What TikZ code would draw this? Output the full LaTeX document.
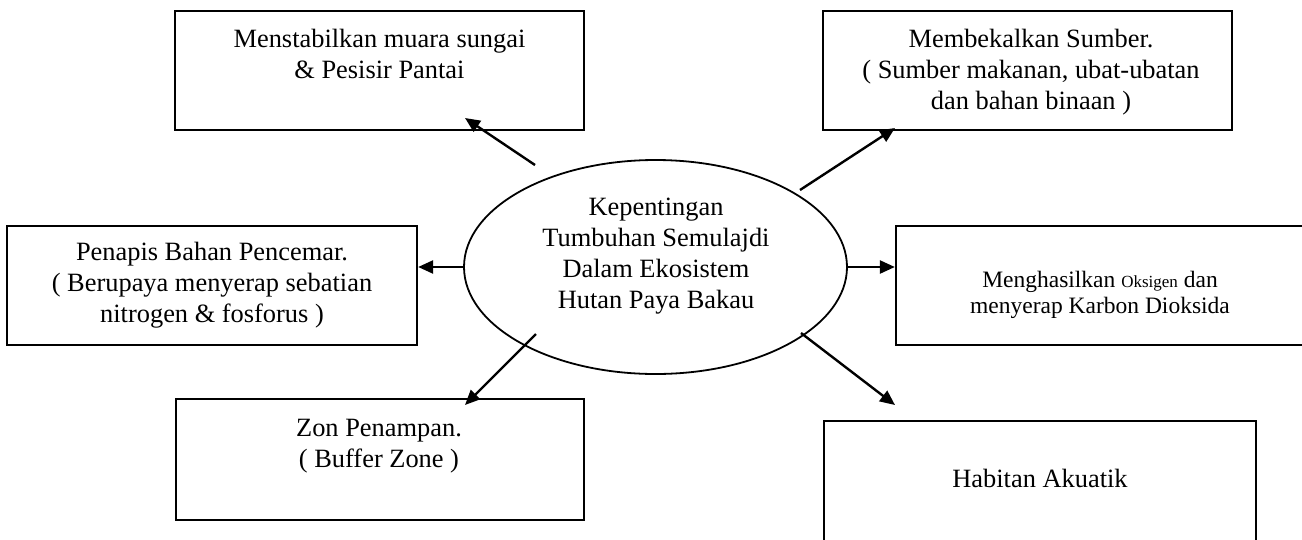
\documentclass[tikz,border=0pt]{standalone}
\usepackage{fontspec}
\setmainfont{Liberation Serif}
\usetikzlibrary{arrows.meta,shapes.geometric}

\tikzset{
  box/.style={draw, line width=2.3pt, rectangle, inner sep=0pt},
  oval/.style={draw, line width=1.8pt, ellipse, inner sep=0pt,
               minimum width=383pt, minimum height=214pt},
  % multi-line texts are placed by the baseline of their last line
  label text/.style={inner sep=0pt, anchor=base, align=center,
                     font=\fontsize{26.4}{31}\selectfont},
  small text/.style={inner sep=0pt, anchor=base, align=center,
                     font=\fontsize{23.5}{26}\selectfont},
  arr/.style={line width=2.4pt, -{Triangle[length=15pt,width=13pt]}}
}

\begin{document}
\begin{tikzpicture}[x=1pt, y=-1pt]
  \useasboundingbox (0,0) rectangle (1302,539);
  \clip (0,0) rectangle (1302,539);

  % central idea
  \node[oval] (c) at (655.5,267) {};
  \node[label text] (ct) at (656,308)
    {Kepentingan\\Tumbuhan Semulajdi\\Dalam Ekosistem\\Hutan Paya Bakau};

  % surrounding boxes
  \node[box, minimum width=409pt, minimum height=119pt] (tl) at (379.5,70.5) {};
  \node[label text] (tlt) at (379.5,78) {Menstabilkan muara sungai\\\& Pesisir Pantai};

  \node[box, minimum width=409pt, minimum height=119pt] (tr) at (1027.5,70.5) {};
  \node[label text] (trt) at (1031,109.5)
    {Membekalkan Sumber.\\( Sumber makanan, ubat-ubatan\\dan bahan binaan )};

  \node[box, minimum width=410pt, minimum height=119pt] (lb) at (212,285.5) {};
  \node[label text] (lbt) at (212,322)
    {Penapis Bahan Pencemar.\\( Berupaya menyerap sebatian\\nitrogen \& fosforus )};

  \node[box, minimum width=409pt, minimum height=119pt] (rb) at (1100.5,285.5) {};
  \node[small text] (rbt) at (1100,313)
    {Menghasilkan {\fontsize{17}{26}\selectfont Oksigen} dan\\menyerap Karbon Dioksida};

  \node[box, minimum width=408pt, minimum height=121pt] (zb) at (380,459.5) {};
  \node[label text] (zbt) at (379,467) {Zon Penampan.\\( Buffer Zone )};

  \node[box, minimum width=432pt, minimum height=139pt] (hb) at (1040,490.5) {};
  \node[label text] (hbt) at (1040,487) {Habitan Akuatik};

  % arrow ends
  \coordinate (s1) at (535,165);  \coordinate (e1) at (465,118);
  \coordinate (s2) at (800,190);  \coordinate (e2) at (895,128);
  \coordinate (s5) at (536,334);  \coordinate (e5) at (465,405);
  \coordinate (s6) at (801,333);  \coordinate (e6) at (895,405);

  % connectors
  \draw[arr] (s1) -- (e1);
  \draw[arr] (s2) -- (e2);
  \draw[arr] (c.west) -- (c.west -| lb.east);
  \draw[arr] (c.east) -- (c.east -| rb.west);
  \draw[arr] (s5) -- (e5);
  \draw[arr] (s6) -- (e6);
\end{tikzpicture}
\end{document}
